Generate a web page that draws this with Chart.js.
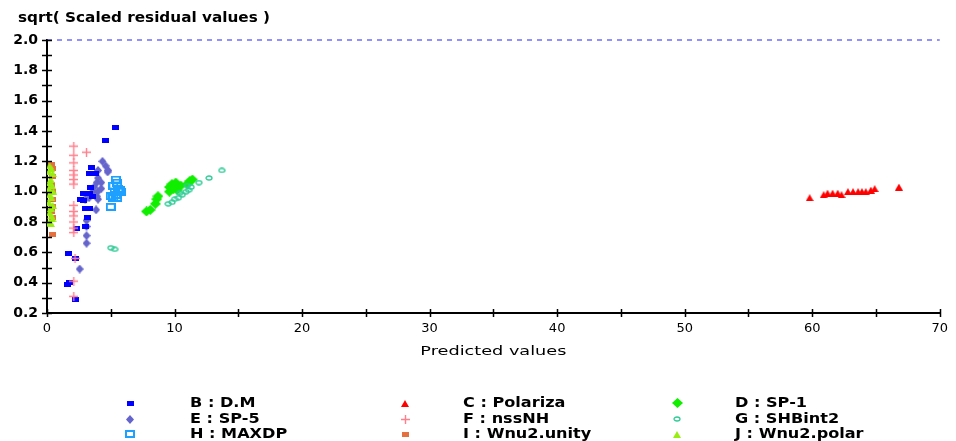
<!DOCTYPE html>
<html>
<head>
<meta charset="utf-8">
<script src="https://cdn.jsdelivr.net/npm/chart.js@4/dist/chart.umd.min.js"></script>
<style>
  html, body { margin: 0; padding: 0; background: #ffffff; }
  #plot { display: block; }
</style>
</head>
<body>
<canvas id="plot" width="956" height="441"></canvas>
<script>
// Predicted value (x) and sqrt of scaled residual (y) for each descriptor group
const seriesNames = ['B : D.M', 'C : Polariza', 'D : SP-1', 'E : SP-5', 'F : nssNH',
                     'G : SHBint2', 'H : MAXDP', 'I : Wnu2.unity', 'J : Wnu2.polar'];

const dmX = [5.4, 4.6, 3.5, 3.3, 3.8, 3.4, 2.9, 3.3, 3.6, 2.6, 2.9, 3.0, 3.3, 3.2, 3.0, 2.3, 1.7, 2.2, 1.6, 1.8, 2.2];
const dmY = [1.42, 1.34, 1.16, 1.12, 1.12, 1.03, 0.99, 0.99, 0.97, 0.95, 0.94, 0.89, 0.89, 0.83, 0.77, 0.76, 0.59, 0.56, 0.39, 0.40, 0.29];

const polX = [59.8, 60.9, 61.2, 61.6, 62.0, 62.3, 62.8, 63.2, 63.6, 63.9, 64.2, 64.6, 64.9, 66.8];
const polY = [0.96, 0.98, 0.99, 0.99, 0.99, 0.98, 1.00, 1.00, 1.00, 1.00, 1.00, 1.01, 1.02, 1.03];

const sp1X = [7.8, 8.1, 8.5, 8.6, 8.7, 9.6, 9.6, 9.8, 10.1, 10.2, 10.5, 11.0, 11.2, 11.4, 9.9];
const sp1Y = [0.87, 0.88, 0.92, 0.95, 0.97, 1.00, 1.03, 1.05, 1.06, 1.01, 1.04, 1.05, 1.07, 1.08, 1.02];

const sp5X = [4.35, 4.6, 4.0, 4.75, 4.0, 3.9, 4.25, 3.7, 3.97, 3.9, 3.3, 4.0, 3.0, 3.85, 3.1, 3.1, 3.1, 3.1, 2.56, 4.25, 3.6, 4.8];
const sp5Y = [1.20, 1.17, 1.14, 1.13, 1.09, 1.06, 1.06, 1.03, 1.00, 0.97, 0.96, 0.95, 0.95, 0.88, 0.81, 0.77, 0.71, 0.66, 0.49, 1.02, 1.00, 1.14];

const nhX = [2.1, 2.1, 2.1, 2.1, 2.1, 2.1, 2.1, 2.1, 2.1, 2.1, 2.1, 2.1, 2.1, 3.1, 2.2, 2.1, 2.1];
const nhY = [1.30, 1.24, 1.19, 1.14, 1.11, 1.08, 1.05, 0.91, 0.87, 0.84, 0.80, 0.76, 0.73, 1.26, 0.56, 0.41, 0.31];

const shbX = [5.0, 5.3, 9.5, 9.8, 10.0, 10.3, 10.6, 10.9, 11.1, 11.3, 11.9, 12.7, 13.7, 10.4, 11.0];
const shbY = [0.63, 0.62, 0.92, 0.93, 0.95, 0.96, 0.98, 1.00, 1.01, 1.03, 1.06, 1.09, 1.14, 0.99, 1.04];

const maxdpX = [5.4, 5.5, 5.2, 5.6, 5.8, 5.3, 5.0, 5.2, 5.5, 5.4, 5.0, 5.7];
const maxdpY = [1.08, 1.06, 1.04, 1.02, 1.00, 1.00, 0.97, 0.96, 0.96, 0.98, 0.90, 1.01];

const unityX = [0.35, 0.45, 0.4, 0.35, 0.45, 0.4, 0.45, 0.35, 0.4, 0.45];
const unityY = [1.18, 1.15, 1.10, 1.05, 1.00, 0.95, 0.90, 0.87, 0.83, 0.72];

const polarX = [0.2, 0.35, 0.15, 0.45, 0.3, 0.2, 0.4, 0.15, 0.5, 0.2, 0.35, 0.15, 0.45, 0.3, 0.2, 0.35, 0.45, 0.2, 0.3];
const polarY = [1.17, 1.15, 1.13, 1.12, 1.08, 1.06, 1.04, 1.02, 1.00, 0.98, 0.96, 0.93, 0.91, 0.89, 0.86, 0.84, 0.82, 0.80, 0.79];

// Upper reference level on the residual axis
const refLevel = 2.0;

// Axis ranges and tick steps
const xMin = 0, xMax = 70, xStep = 5, xLabelEvery = 10;
const yMin = 0.2, yMax = 2.0, yStep = 0.1;

// ---------- marker sprites ----------
function sprite(w, h, draw) {
  const c = document.createElement('canvas');
  c.width = w; c.height = h;
  const g = c.getContext('2d');
  draw(g, w, h);
  return c;
}
const markers = {
  filledRect: col => sprite(7, 5, (g, w, h) => { g.fillStyle = col; g.fillRect(0, 0, w, h); }),
  openRect: col => sprite(10, 8, (g, w, h) => { g.strokeStyle = col; g.lineWidth = 2; g.strokeRect(1, 1, w - 2, h - 2); }),
  triangle: col => sprite(8, 7, (g, w, h) => {
    g.fillStyle = col; g.beginPath(); g.moveTo(w / 2, 0); g.lineTo(w, h); g.lineTo(0, h); g.closePath(); g.fill();
  }),
  diamond: (col, w, h) => sprite(w, h, (g) => {
    g.fillStyle = col; g.beginPath(); g.moveTo(w / 2, 0); g.lineTo(w, h / 2); g.lineTo(w / 2, h); g.lineTo(0, h / 2); g.closePath(); g.fill();
  }),
  plus: col => sprite(9, 9, (g, w, h) => {
    g.strokeStyle = col; g.lineWidth = 1.4; g.beginPath();
    g.moveTo(w / 2, 0); g.lineTo(w / 2, h); g.moveTo(0, h / 2); g.lineTo(w, h / 2); g.stroke();
  }),
  ring: col => sprite(8, 6, (g, w, h) => {
    g.strokeStyle = col; g.lineWidth = 1.3; g.beginPath();
    g.ellipse(w / 2, h / 2, w / 2 - 1, h / 2 - 1, 0, 0, Math.PI * 2); g.stroke();
  })
};

const seriesX = [dmX, polX, sp1X, sp5X, nhX, shbX, maxdpX, unityX, polarX];
const seriesY = [dmY, polY, sp1Y, sp5Y, nhY, shbY, maxdpY, unityY, polarY];
const seriesMarker = [
  markers.filledRect('#0000ff'),
  markers.triangle('#ff0000'),
  markers.diamond('#11ee00', 11, 10),
  markers.diamond('#6464cc', 8, 9),
  markers.plus('#ff7f8c'),
  markers.ring('#33cc99'),
  markers.openRect('#1ea0ff'),
  markers.filledRect('#e4703f'),
  markers.triangle('#99ee11')
];
// lower order is painted later (on top)
const seriesOrder = [3, 1, 6, 4, 2, 5, 1, 8, 7];

const datasets = seriesNames.map((name, i) => ({
  label: name,
  data: seriesX[i].map((x, k) => ({ x: x, y: seriesY[i][k] })),
  pointStyle: seriesMarker[i],
  order: seriesOrder[i],
  showLine: false
}));

datasets.push({
  label: 'limit',
  type: 'line',
  data: [{ x: xMin, y: refLevel }, { x: xMax, y: refLevel }],
  borderColor: '#4848ff',
  borderWidth: 1.2,
  borderDash: [5, 5],
  pointRadius: 0,
  clip: false,
  order: 0
});

// text drawn at a given font and stretched horizontally to a given width
function fitText(ctx, text, x, y, font, width, align) {
  ctx.save();
  ctx.font = font;
  const w = ctx.measureText(text).width;
  const sx = width ? width / w : 1;
  const left = align === 'center' ? x - (w * sx) / 2 : x;
  ctx.translate(left, y);
  ctx.scale(sx, 1);
  ctx.textAlign = 'left';
  ctx.fillText(text, 0, 0);
  ctx.restore();
}

// ---------- decorations: title, crossing tick marks, axis title, legend ----------
const decorations = {
  id: 'decorations',
  afterDraw(chart) {
    const ctx = chart.ctx;
    const xs = chart.scales.x, ys = chart.scales.y;
    const area = chart.chartArea;
    ctx.save();

    // tick marks crossing both axes
    ctx.strokeStyle = '#000000';
    ctx.lineWidth = 1.5;
    ctx.beginPath();
    for (let v = yMin; v <= yMax + 1e-9; v += yStep) {
      const py = Math.round(ys.getPixelForValue(v)) + 0.5;
      ctx.moveTo(area.left - 5, py); ctx.lineTo(area.left + 5, py);
    }
    for (let v = xMin; v <= xMax + 1e-9; v += xStep) {
      const px = Math.round(xs.getPixelForValue(v)) + 0.5;
      ctx.moveTo(px, area.bottom - 4); ctx.lineTo(px, area.bottom + 4);
    }
    ctx.stroke();

    ctx.fillStyle = '#000000';
    ctx.textBaseline = 'middle';

    // chart title
    fitText(ctx, 'sqrt( Scaled residual values )', 18, 18, 'bold 14px "DejaVu Sans"', 252, 'left');

    // horizontal axis title
    fitText(ctx, 'Predicted values', (area.left + area.right) / 2, 352, '13px "DejaVu Sans"', 146, 'center');

    // legend, three columns
    const markX = [130, 405, 677];
    const textX = [190, 463, 735];
    const rowY = [403, 419, 434];
    ctx.font = 'bold 14px "DejaVu Sans"';
    seriesNames.forEach((name, i) => {
      const r = Math.floor(i / 3), c = i % 3;
      const m = seriesMarker[i];
      ctx.drawImage(m, Math.round(markX[c] - m.width / 2), Math.round(rowY[r] - m.height / 2));
      const w = ctx.measureText(name).width;
      fitText(ctx, name, textX[c], rowY[r], 'bold 14px "DejaVu Sans"', w * 1.15, 'left');
    });
    ctx.restore();
  }
};

new Chart(document.getElementById('plot'), {
  type: 'scatter',
  data: { datasets: datasets },
  options: {
    responsive: false,
    animation: false,
    events: [],
    layout: { padding: { top: 40, right: 8, bottom: 0, left: 0 } },
    plugins: { legend: { display: false }, tooltip: { enabled: false } },
    scales: {
      x: {
        type: 'linear',
        min: xMin, max: xMax,
        border: { color: '#000000', width: 2 },
        grid: { display: false, drawTicks: false },
        afterFit(s) { s.height = 441 - 313; },
        ticks: {
          stepSize: xStep,
          padding: 8,
          color: '#000000',
          maxRotation: 0,
          autoSkip: false,
          font: { family: 'DejaVu Sans', size: 13 },
          callback: v => (Math.round(v) % xLabelEvery === 0 ? String(v) : '')
        }
      },
      y: {
        type: 'linear',
        min: yMin, max: yMax,
        border: { color: '#000000', width: 2 },
        grid: { display: false, drawTicks: false },
        afterFit(s) { s.width = 47; },
        ticks: {
          stepSize: yStep,
          padding: 9,
          color: '#000000',
          autoSkip: false,
          font: { family: 'DejaVu Sans', size: 14, weight: 'bold' },
          callback: v => (Math.round(v * 10) % 2 === 0 ? v.toFixed(1) : '')
        }
      }
    }
  },
  plugins: [decorations]
});
</script>
</body>
</html>
